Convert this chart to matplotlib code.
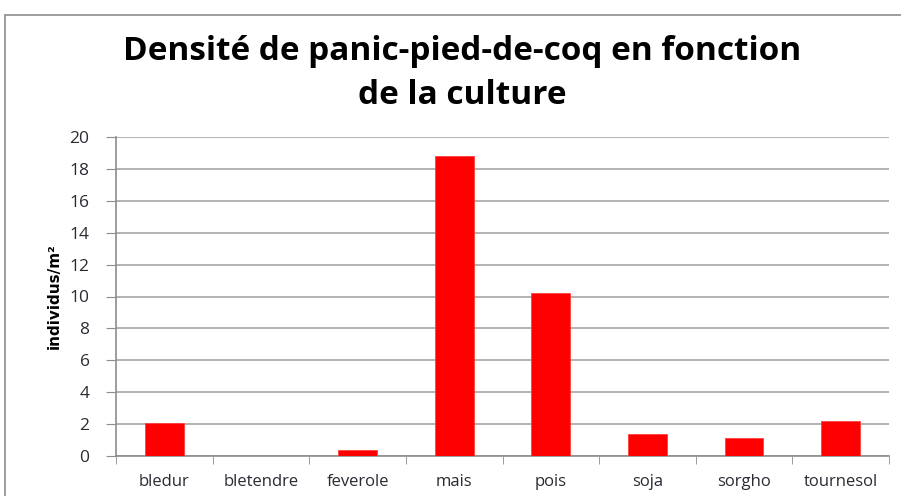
import matplotlib
matplotlib.use("Agg")
import matplotlib.pyplot as plt
from matplotlib.patches import Rectangle
import numpy as np

categories = ["bledur", "bletendre", "feverole", "mais", "pois", "soja", "sorgho", "tournesol"]
values = [2.1, 0.0, 0.4, 18.8, 10.2, 1.4, 1.1, 2.2]
yticks = [0, 2, 4, 6, 8, 10, 12, 14, 16, 18, 20]

W, H = 901, 496
fig = plt.figure(figsize=(W/100, H/100), dpi=100)
fig.patch.set_facecolor("white")

# outer chart frame
fig.patches.append(Rectangle((5/W, -0.1), 1.2, (H-15)/H + 0.1, transform=fig.transFigure,
                             fill=False, edgecolor="#8c8c8c", linewidth=1.2))

ax = fig.add_axes([116/W, (H-456)/H, (889-116)/W, (456-137)/H])
x = np.arange(len(categories))
ax.bar(x, values, width=0.4, color="#ff0000", edgecolor="#ff4040", linewidth=0.6, zorder=3)
ax.set_xlim(-0.5, len(categories)-0.5)
ax.set_ylim(0, 20)
ax.set_yticks(yticks)
ax.set_yticklabels([str(t) for t in yticks], fontsize=12.5, color="#2a2a33", family="Open Sans")
ax.set_xticks(x)
ax.set_xticklabels(categories, fontsize=12, color="#2a2a33", family="Open Sans")
ax.set_xticks(np.arange(-0.5, len(categories)), minor=True)
ax.tick_params(axis="x", which="major", length=0, pad=13)
ax.tick_params(axis="x", which="minor", length=6, color="#8c8c8c", direction="out")
ax.tick_params(axis="y", length=7, color="#8c8c8c", direction="out", pad=12)
ax.grid(axis="y", color="#a6a6a6", linewidth=1.2, zorder=0)
for s in ["top", "right"]:
    ax.spines[s].set_visible(False)
for s in ["left", "bottom"]:
    ax.spines[s].set_color("#8c8c8c")
    ax.spines[s].set_linewidth(1.2)

ax.set_ylabel("individus/m²", fontsize=11, fontweight="bold", family="Liberation Sans Narrow",
              labelpad=6)

fig.text(462/W, 1-52/H, "Densité de panic-pied-de-coq en fonction", ha="center", va="center",
         fontsize=24, fontweight="bold", family="Open Sans")
fig.text(462/W, 1-95/H, "de la culture", ha="center", va="center",
         fontsize=24, fontweight="bold", family="Open Sans")

fig.savefig("out.png", dpi=100)
